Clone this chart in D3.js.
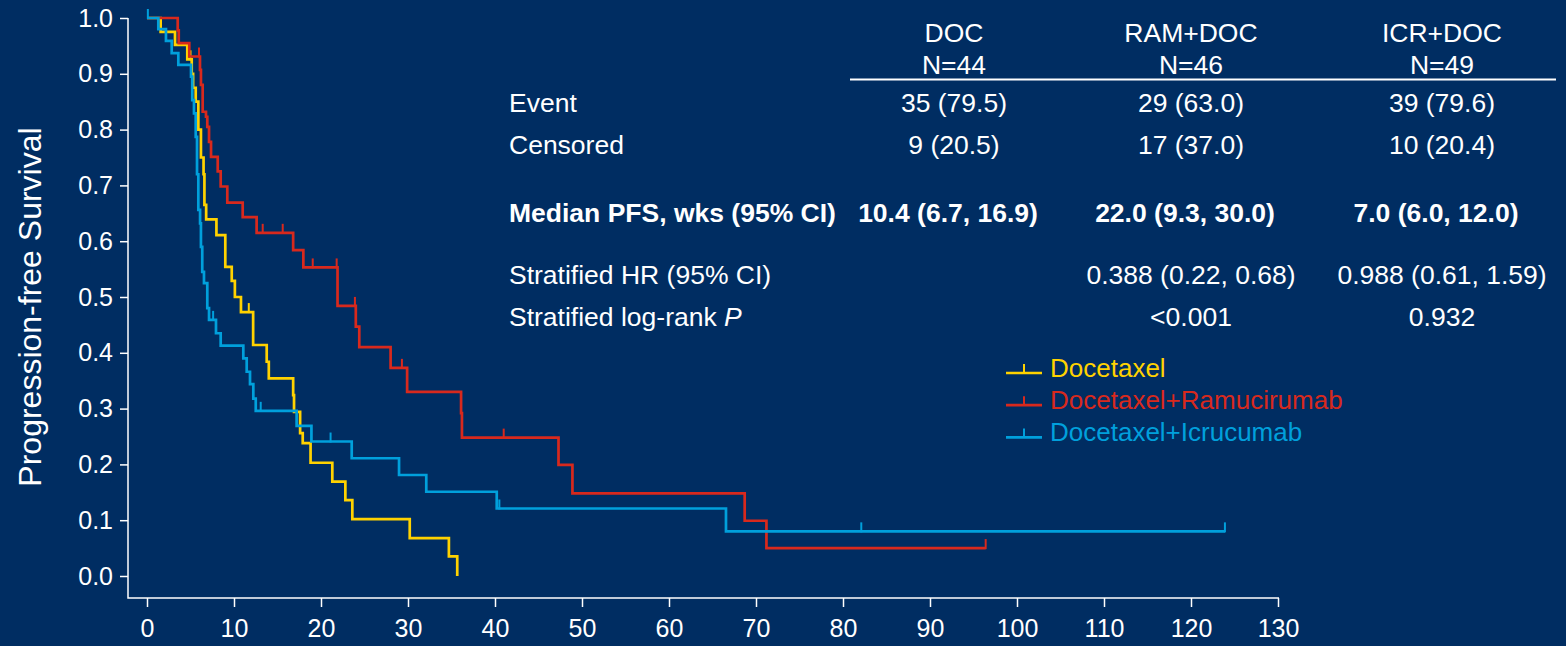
<!DOCTYPE html>
<html>
<head>
<meta charset="utf-8">
<script src="https://cdn.jsdelivr.net/npm/d3@7"></script>
<style>
  html, body { margin: 0; padding: 0; background: #002d62; }
  svg { display: block; }
  text { font-family: "Liberation Sans", Arial, sans-serif; fill: #ffffff; }
</style>
</head>
<body>
<svg id="chart" width="1566" height="646"></svg>
<script>
// ---- axis ticks ----
const xTicks = d3.range(0, 131, 10);
const yTicks = [0, 0.1, 0.2, 0.3, 0.4, 0.5, 0.6, 0.7, 0.8, 0.9, 1.0];

// ---- Kaplan-Meier curves: times (weeks) where survival steps down, and the new level ----
// Docetaxel
const docTimes = [1.57, 3.22, 4.63, 5.14, 5.3, 5.6, 5.9, 6.2, 6.5, 6.6, 6.8, 7.98, 9.0, 9.74, 10.1, 10.8,
                  12.2, 13.76, 14.0, 16.8, 16.9, 17.6, 17.9, 18.8, 21.3, 22.8, 23.6, 30.2, 34.7, 35.66];
const docSurv  = [0.975, 0.952, 0.926, 0.90, 0.875, 0.85, 0.80, 0.75, 0.72, 0.665, 0.639, 0.611, 0.554, 0.529, 0.500, 0.473,
                  0.414, 0.384, 0.354, 0.324, 0.294, 0.256, 0.238, 0.203, 0.169, 0.136, 0.102, 0.068, 0.035, 0.0];
const docCensor = [5.0, 11.7];
const docEnd = 35.66;

// Docetaxel + Ramucirumab
const ramTimes = [3.53, 3.65, 4.86, 6.09, 6.2, 6.4, 6.78, 6.93, 7.13, 7.36, 8.13, 8.47, 9.23, 11.0, 12.6,
                  16.8, 17.97, 21.9, 24.0, 24.4, 28.0, 29.9, 36.1, 36.2, 47.3, 48.9, 68.7, 71.2];
const ramSurv  = [0.978, 0.955, 0.931, 0.907, 0.880, 0.832, 0.823, 0.805, 0.778, 0.751, 0.725, 0.698, 0.669, 0.643, 0.615,
                  0.584, 0.553, 0.484, 0.447, 0.410, 0.373, 0.330, 0.292, 0.248, 0.199, 0.148, 0.099, 0.050];
const ramCensor = [5.98, 13.3, 15.6, 19.05, 21.8, 23.9, 29.3, 41.0, 96.4];
const ramEnd = 96.4;

// Docetaxel + Icrucumab
const icrTimes = [1.3, 2.18, 2.84, 3.6, 5.06, 5.2, 5.4, 5.6, 5.75, 5.9, 6.1, 6.2, 6.35, 6.55, 6.93, 7.13, 7.93, 8.47,
                  11.07, 11.46, 11.84, 12.22, 12.5, 17.2, 18.9, 23.53, 28.97, 32.1, 40.2, 66.55];
const icrSurv  = [0.980, 0.959, 0.937, 0.916, 0.895, 0.853, 0.829, 0.787, 0.72, 0.656, 0.632, 0.590, 0.545, 0.525, 0.480, 0.459, 0.435, 0.413,
                  0.390, 0.366, 0.344, 0.318, 0.296, 0.269, 0.241, 0.211, 0.181, 0.151, 0.121, 0.080];
const icrCensor = [0.1, 7.6, 13.07, 21.1, 40.5, 82.1, 123.9];
const icrEnd = 123.9;

// ---- legend and summary table ----
const legendLabels = ["Docetaxel", "Docetaxel+Ramucirumab", "Docetaxel+Icrucumab"];
const tableCols = ["DOC", "RAM+DOC", "ICR+DOC"];
const tableN = ["N=44", "N=46", "N=49"];
const rowLabels = ["Event", "Censored", "Median PFS, wks (95% CI)", "Stratified HR (95% CI)", "Stratified log-rank "];
const eventVals = ["35 (79.5)", "29 (63.0)", "39 (79.6)"];
const censoredVals = ["9 (20.5)", "17 (37.0)", "10 (20.4)"];
const medianVals = ["10.4 (6.7, 16.9)", "22.0 (9.3, 30.0)", "7.0 (6.0, 12.0)"];
const hrVals = ["", "0.388 (0.22, 0.68)", "0.988 (0.61, 1.59)"];
const pVals = ["", "<0.001", "0.932"];

const colors = ["#ffd200", "#d8291d", "#00a0dc"];

const svg = d3.select("#chart");
svg.append("rect").attr("width", 1566).attr("height", 646).attr("fill", "#002d62");

const x = d3.scaleLinear().domain([0, 130]).range([147, 1278]);
const y = d3.scaleLinear().domain([0, 1]).range([576, 18]);
const axisX = 128, axisY = 598;

// ---- axes ----
const gy = svg.append("g").attr("transform", `translate(${axisX},0)`)
  .call(d3.axisLeft(y).tickValues(yTicks).tickSize(8).tickPadding(7).tickFormat(d3.format(".1f")));
gy.select(".domain").remove();
gy.selectAll(".tick line").attr("stroke", "#fff").attr("stroke-width", 1.5);
gy.selectAll(".tick text").attr("font-size", 25).attr("fill", "#fff")
  .style("font-family", "'Liberation Sans', Arial, sans-serif");

const gx = svg.append("g").attr("transform", `translate(0,${axisY})`)
  .call(d3.axisBottom(x).tickValues(xTicks).tickSize(9).tickPadding(12));
gx.select(".domain").remove();
gx.selectAll(".tick line").attr("stroke", "#fff").attr("stroke-width", 1.5);
gx.selectAll(".tick text").attr("font-size", 25).attr("fill", "#fff")
  .style("font-family", "'Liberation Sans', Arial, sans-serif");

svg.append("path")
  .attr("d", `M${axisX},${y(1)}V${axisY}H${x(130) + 1}`)
  .attr("fill", "none").attr("stroke", "#fff").attr("stroke-width", 1.5);

svg.append("text")
  .attr("transform", `translate(41,${(y(0) + y(1)) / 2 + 10}) rotate(-90)`)
  .attr("text-anchor", "middle").attr("font-size", 32)
  .text("Progression-free Survival");

// ---- curves ----
const series = [
  { times: docTimes, surv: docSurv, censor: docCensor, end: docEnd },
  { times: ramTimes, surv: ramSurv, censor: ramCensor, end: ramEnd },
  { times: icrTimes, surv: icrSurv, censor: icrCensor, end: icrEnd }
];

const line = d3.line().x(d => x(d[0])).y(d => y(d[1])).curve(d3.curveStepAfter);

function survAt(s, t) {
  let v = 1;
  s.times.forEach((tt, i) => { if (tt <= t) v = s.surv[i]; });
  return v;
}

series.forEach((s, k) => {
  const pts = [[0, 1]].concat(s.times.map((t, i) => [t, s.surv[i]]));
  pts.push([s.end, s.surv[s.surv.length - 1]]);
  svg.append("path").attr("d", line(pts))
    .attr("fill", "none").attr("stroke", colors[k]).attr("stroke-width", 2.7)
    .attr("stroke-linejoin", "miter");
  svg.append("g").selectAll("line").data(s.censor).join("line")
    .attr("x1", d => x(d)).attr("x2", d => x(d))
    .attr("y1", d => y(survAt(s, d)) + 1).attr("y2", d => y(survAt(s, d)) - 9)
    .attr("stroke", colors[k]).attr("stroke-width", 2);
});

// ---- legend ----
const lg = svg.append("g");
legendLabels.forEach((lab, i) => {
  const ly = 373 + i * 32.2;
  lg.append("line").attr("x1", 1006).attr("x2", 1042).attr("y1", ly).attr("y2", ly)
    .attr("stroke", colors[i]).attr("stroke-width", 2.7);
  lg.append("line").attr("x1", 1024).attr("x2", 1024).attr("y1", ly).attr("y2", ly - 9)
    .attr("stroke", colors[i]).attr("stroke-width", 2);
  lg.append("text").attr("x", 1050).attr("y", ly + 4).attr("font-size", 26)
    .style("fill", colors[i]).text(lab);
});

// ---- summary table ----
const colX = [954, 1191, 1442];
const boldShift = -6;
const fs = 26.5;
const tg = svg.append("g").attr("font-size", fs);
tableCols.forEach((c, i) => {
  tg.append("text").attr("x", colX[i]).attr("y", 42).attr("text-anchor", "middle").text(c);
  tg.append("text").attr("x", colX[i]).attr("y", 74).attr("text-anchor", "middle").text(tableN[i]);
});
tg.append("line").attr("x1", 850).attr("x2", 1556).attr("y1", 79.5).attr("y2", 79.5)
  .attr("stroke", "#fff").attr("stroke-width", 2);

const rowY = [111.5, 153.5, 221.5, 283.5, 325.5];
const rowVals = [eventVals, censoredVals, medianVals, hrVals, pVals];
rowLabels.forEach((lab, r) => {
  const bold = r === 2;
  const t = tg.append("text").attr("x", 509).attr("y", rowY[r])
    .attr("font-weight", bold ? "bold" : "normal").text(lab);
  if (r === 4) t.append("tspan").attr("font-style", "italic").text("P");
  rowVals[r].forEach((v, i) => {
    if (!v) return;
    tg.append("text").attr("x", colX[i] + (bold ? boldShift : 0)).attr("y", rowY[r])
      .attr("text-anchor", "middle")
      .attr("font-weight", bold ? "bold" : "normal").text(v);
  });
});
</script>
</body>
</html>
